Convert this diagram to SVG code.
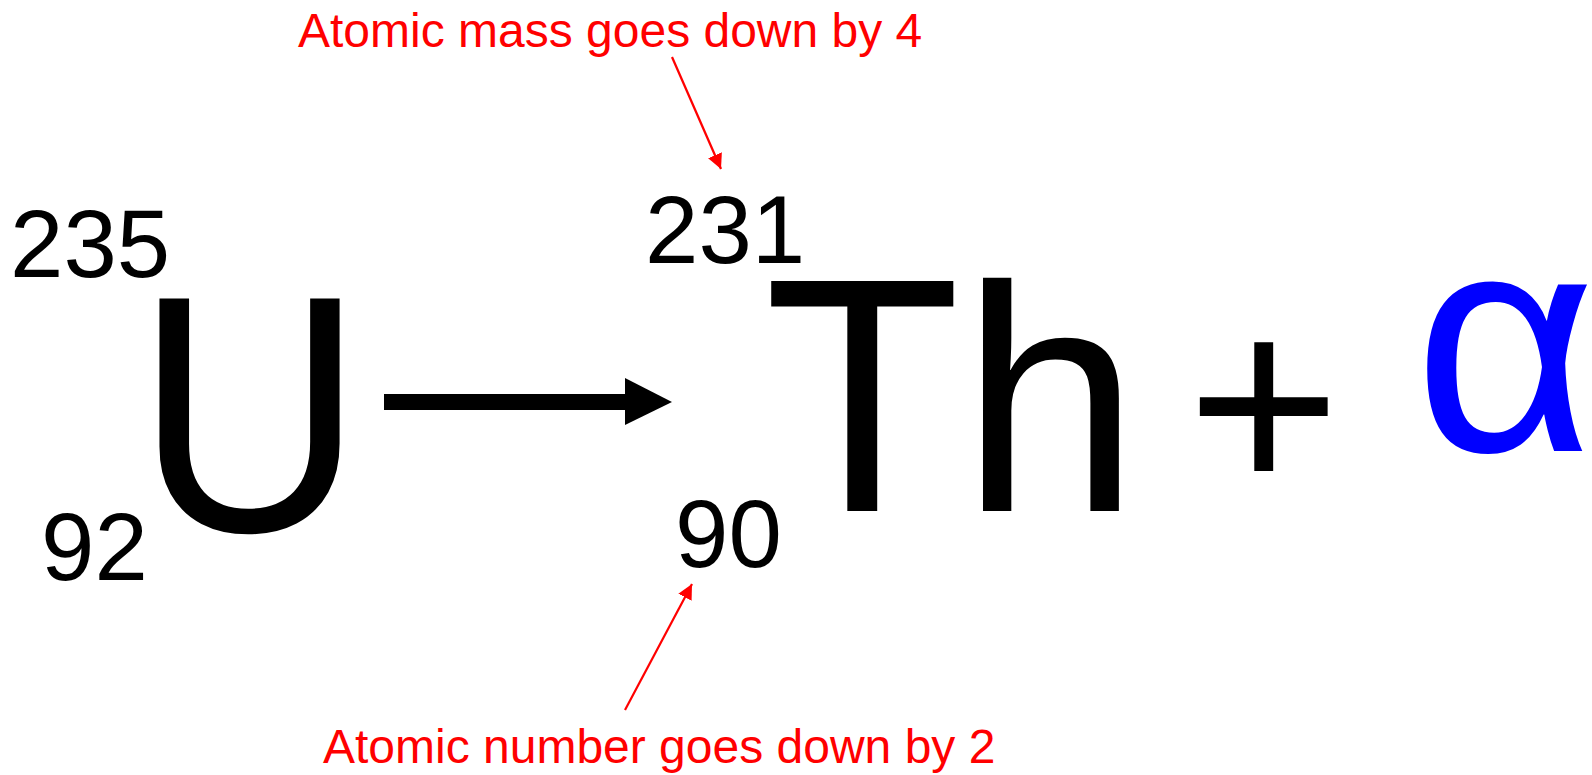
<svg xmlns="http://www.w3.org/2000/svg" width="1592" height="775" viewBox="0 0 1592 775">
<defs>
<style>
.t{font-family:"Liberation Sans",Arial,sans-serif;fill:#000}
.num{font-size:96px}
.big{font-size:322px}
.note{font-size:48px;fill:#ff0000}
.red{stroke:#ff0000;stroke-width:2.2;fill:none}
</style>
<marker id="rh" markerUnits="userSpaceOnUse" markerWidth="16" markerHeight="16" refX="15" refY="7.5" orient="auto">
<path d="M0,0 L15,7.5 L0,15 Z" fill="#ff0000"/>
</marker>
</defs>
<rect width="1592" height="775" fill="#fff"/>
<g id="uranium">
<text class="t num" x="10" y="277">235</text>
<text class="t big" transform="translate(135,531) scale(0.985,1.05)" x="0" y="0">U</text>
<text class="t num" x="41" y="580">92</text>
</g>
<g id="thorium">
<text class="t num" x="645" y="263">231</text>
<text class="t big" transform="translate(764,511) scale(1,1.038)" x="0" y="0">T</text>
<text class="t big" x="960.7" y="511">h</text>
<text class="t num" x="675" y="567">90</text>
</g>
<g id="plus">
<text class="t" style="font-size:263px" x="1187" y="494">+</text>
</g>
<g id="alpha">
<text class="t" style="font-size:315px;fill:#0000ff" x="1414" y="451">α</text>
</g>
<g id="note-mass">
<text class="t note" x="298" y="47">Atomic mass goes down by 4</text>
</g>
<g id="note-number">
<text class="t note" x="323" y="763">Atomic number goes down by 2</text>
</g>
<g id="connectors">
<rect x="384" y="394" width="242" height="16" fill="#000"/>
<path d="M625,378 L672,402 L625,425 Z" fill="#000"/>
<line class="red" x1="672" y1="57" x2="721" y2="169" marker-end="url(#rh)"/>
<line class="red" x1="625" y1="710" x2="692" y2="584" marker-end="url(#rh)"/>
</g>
</svg>
